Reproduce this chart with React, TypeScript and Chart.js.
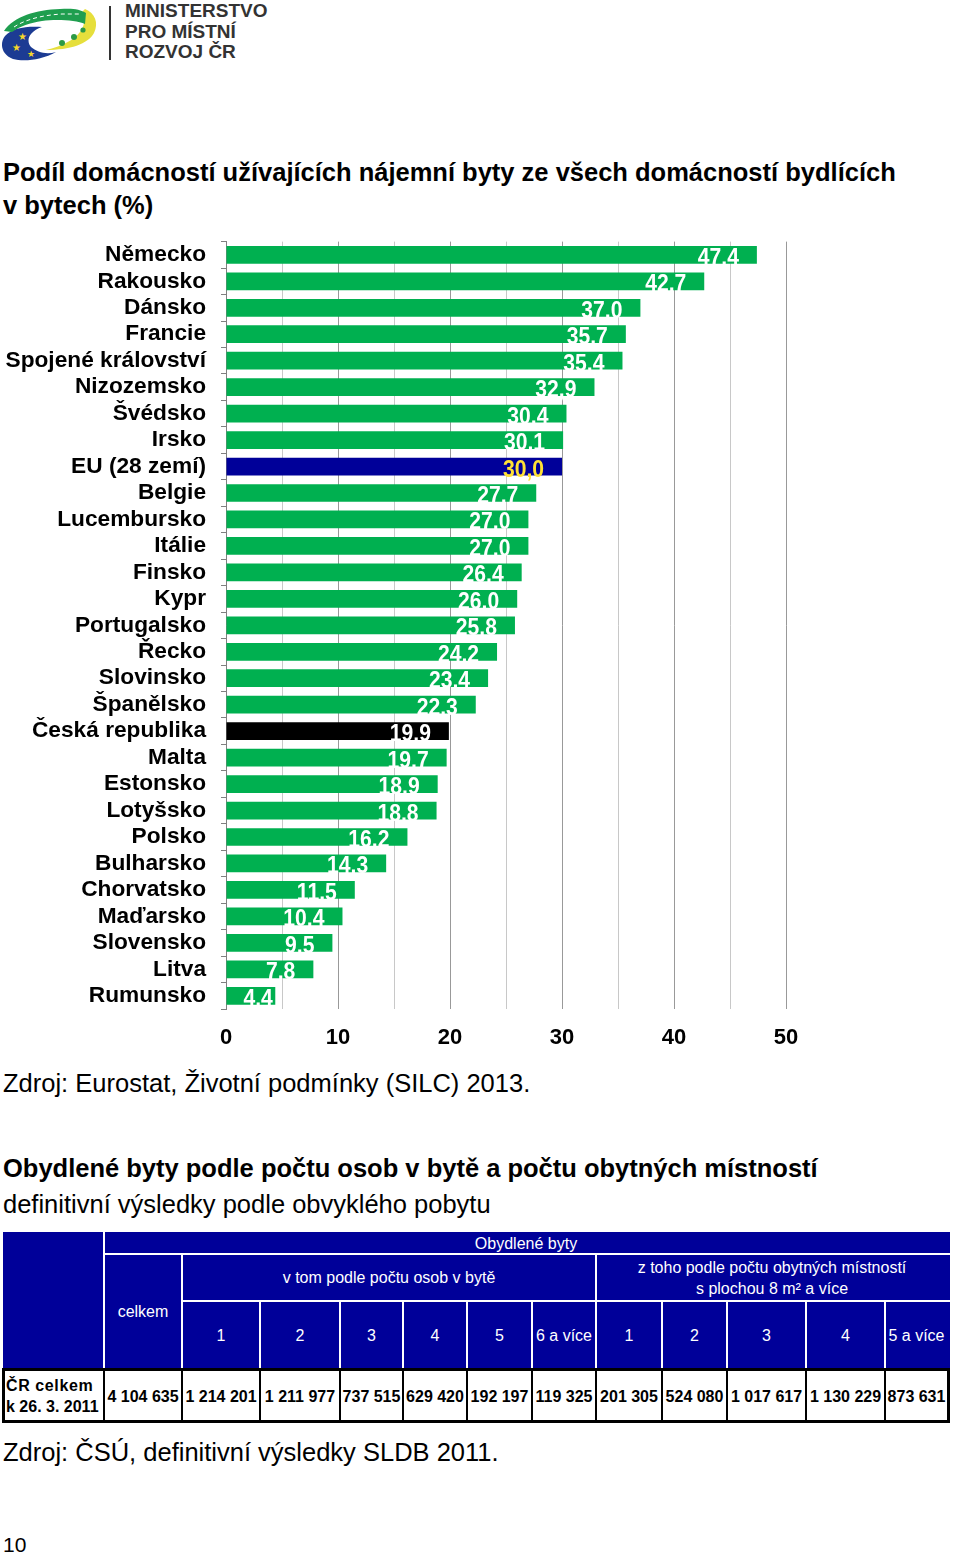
import React, { useEffect, useRef } from 'react';
import { Chart, registerables } from 'chart.js';

Chart.register(...registerables);

// ---------- chart data ----------
const categories = [
  'Německo', 'Rakousko', 'Dánsko', 'Francie', 'Spojené království', 'Nizozemsko',
  'Švédsko', 'Irsko', 'EU (28 zemí)', 'Belgie', 'Lucembursko', 'Itálie', 'Finsko',
  'Kypr', 'Portugalsko', 'Řecko', 'Slovinsko', 'Španělsko', 'Česká republika',
  'Malta', 'Estonsko', 'Lotyšsko', 'Polsko', 'Bulharsko', 'Chorvatsko', 'Maďarsko',
  'Slovensko', 'Litva', 'Rumunsko',
];
const values = [
  47.4, 42.7, 37.0, 35.7, 35.4, 32.9, 30.4, 30.1, 30.0, 27.7, 27.0, 27.0, 26.4,
  26.0, 25.8, 24.2, 23.4, 22.3, 19.9, 19.7, 18.9, 18.8, 16.2, 14.3, 11.5, 10.4,
  9.5, 7.8, 4.4,
];
const xTickLabels = [0, 10, 20, 30, 40, 50];
const euCategory = 'EU (28 zemí)';
const czCategory = 'Česká republika';

// ---------- table data ----------
const tableGroupHeader = 'Obydlené byty';
const tableTotalHeader = 'celkem';
const tablePersonsHeader = 'v tom podle počtu osob v bytě';
const tableRoomsHeader = ['z toho podle počtu obytných místností', 's plochou 8 m²  a více'];
const personCategories = ['1', '2', '3', '4', '5', '6 a více'];
const roomCategories = ['1', '2', '3', '4', '5 a více'];
const rowLabel = ['ČR celkem', 'k 26. 3. 2011'];
const totalValue = '4 104 635';
const personValues = ['1 214 201', '1 211 977', '737 515', '629 420', '192 197', '119 325'];
const roomValues = ['201 305', '524 080', '1 017 617', '1 130 229', '873 631'];

// ---------- styles / layout ----------
const GREEN = '#00B050';
const NAVY = '#000099';
const FONT = '"Liberation Sans", Arial, Helvetica, sans-serif';
const colEdges = [3, 104, 182, 260, 340, 403, 467, 532, 596, 662, 727, 806, 885, 948];
const T_TOP = 1232, R1 = 1254, R2 = 1301, R3 = 1369, T_BOT = 1423;

const barLabelPlugin = {
  id: 'barLabels',
  afterDatasetsDraw(chart: any) {
    const ctx = chart.ctx;
    const meta = chart.getDatasetMeta(0);
    const sx = 0.88;
    ctx.save();
    ctx.font = `bold 24px ${FONT}`;
    ctx.textBaseline = 'alphabetic';
    ctx.textAlign = 'left';
    meta.data.forEach((bar: any, i: number) => {
      const { x, y, base } = bar.getProps(['x', 'y', 'base'], true);
      const text = values[i].toFixed(1).replace('.', ',');
      const w = ctx.measureText(text).width * sx;
      const right = Math.max(x - 18, base + 17 + w);
      ctx.fillStyle = categories[i] === euCategory ? '#FFE135' : '#FFFFFF';
      ctx.save();
      ctx.translate(right - w, y + 10);
      ctx.scale(sx, 1);
      ctx.fillText(text, 0, 0);
      ctx.restore();
    });
    ctx.restore();
  },
};

function BarChart() {
  const ref = useRef<HTMLCanvasElement | null>(null);
  useEffect(() => {
    if (!ref.current) return;
    const colors = categories.map((c) =>
      c === euCategory ? NAVY : c === czCategory ? '#000000' : GREEN
    );
    const chart = new Chart(ref.current, {
      type: 'bar',
      data: {
        labels: categories,
        datasets: [
          {
            data: values,
            backgroundColor: colors,
            borderWidth: 0,
            barPercentage: 0.67,
            categoryPercentage: 1,
          },
        ],
      },
      options: {
        indexAxis: 'y',
        animation: false,
        responsive: true,
        maintainAspectRatio: false,
        layout: { padding: { top: 0, right: 174, bottom: 0, left: 0 } },
        plugins: { legend: { display: false }, tooltip: { enabled: false }, title: { display: false } },
        scales: {
          x: {
            type: 'linear',
            min: 0,
            max: 50,
            afterFit(scale: any) { scale.height = 51; },
            ticks: {
              stepSize: 5,
              padding: 16,
              color: '#000',
              font: { family: FONT, size: 22, weight: 'bold' },
              callback: (v: any) => (xTickLabels.includes(Number(v)) ? String(v) : ''),
            },
            grid: {
              drawTicks: false,
              color: (c: any) => (c.tick && c.tick.value % 10 === 0 ? '#999999' : '#c8c8c8'),
              lineWidth: 1,
            },
            border: { display: false },
          },
          y: {
            type: 'category',
            afterFit(scale: any) { scale.width = 226; },
            ticks: {
              autoSkip: false,
              padding: 15,
              color: '#000',
              font: { family: FONT, size: 22.7, weight: 'bold' },
            },
            grid: {
              offset: true,
              drawOnChartArea: false,
              drawTicks: true,
              tickLength: 5,
              color: '#808080',
            },
            border: { display: true, color: '#808080', width: 1 },
          },
        },
      },
      plugins: [barLabelPlugin],
    });
    return () => chart.destroy();
  }, []);
  return (
    <div style={{ position: 'absolute', left: 0, top: 213, width: 960, height: 847 }}>
      <canvas ref={ref} />
    </div>
  );
}

function Logo() {
  return (
    <div style={{ position: 'absolute', left: 0, top: 0, width: 280, height: 70 }}>
      <svg width="110" height="66" viewBox="0 0 110 66" style={{ position: 'absolute', left: 0, top: 0 }}>
        <path d="M42,27 C26,26 12,28 5,36 C-1,44 2,55 13,59 C24,62 42,60 56,52 C46,55 37,52 31,47 C26,41 28,32 42,27 Z" fill="#1c3b93" />
        <path d="M85,9 C95,13 99,23 94,33 C88,44 70,50 46,50 C62,46 74,40 80,32 C85,25 86,17 82,12 Z" fill="#e6df3c" />
        <path d="M4,31 C14,16 36,10 60,9 C72,8 80,9 86,13 L85,24 C76,20 56,19 42,21 C30,23 20,26 12,32 Z" fill="#1f9e4f" />
        <path d="M14,27 C26,19 44,15 62,14 L80,14" stroke="#ffffff" strokeWidth="1" strokeDasharray="4 3" fill="none" />
        <circle cx="62" cy="43" r="3" fill="#2d9a45" />
        <circle cx="74" cy="37" r="3" fill="#2d9a45" />
        <circle cx="83" cy="30" r="2.6" fill="#2d9a45" />
        <text x="18" y="40" fontSize="10" fill="#f5d829">★</text>
        <text x="12" y="51" fontSize="10" fill="#f5d829">★</text>
        <text x="27" y="57" fontSize="9" fill="#f5d829">★</text>
      </svg>
      <div style={{ position: 'absolute', left: 109, top: 6, width: 2, height: 54, background: '#333' }} />
      <div
        style={{
          position: 'absolute', left: 125, top: 1, fontFamily: FONT, fontWeight: 'bold',
          fontSize: 19, lineHeight: '20.5px', color: '#333333', whiteSpace: 'nowrap',
        }}
      >
        <div>MINISTERSTVO</div>
        <div>PRO MÍSTNÍ</div>
        <div>ROZVOJ ČR</div>
      </div>
    </div>
  );
}

function Txt(props: { top: number; left?: number; size: number; bold?: boolean; children: any }) {
  return (
    <div
      style={{
        position: 'absolute', left: props.left ?? 3, top: props.top, fontFamily: FONT,
        fontSize: props.size, lineHeight: '30px', fontWeight: props.bold ? 'bold' : 'normal',
        color: '#000', whiteSpace: 'nowrap',
      }}
    >
      {props.children}
    </div>
  );
}

function Cell(props: { x0: number; x1: number; y0: number; y1: number; children: any; white?: boolean; bold?: boolean; align?: string }) {
  return (
    <div
      style={{
        position: 'absolute', left: props.x0, top: props.y0, width: props.x1 - props.x0,
        height: props.y1 - props.y0, display: 'flex', flexDirection: 'column',
        alignItems: props.align === 'left' ? 'flex-start' : 'center', justifyContent: 'center',
        fontFamily: FONT, fontSize: 16, lineHeight: '21px', color: props.white ? '#fff' : '#000',
        fontWeight: props.bold ? 'bold' : 'normal', whiteSpace: 'nowrap', textAlign: 'center',
        paddingLeft: props.align === 'left' ? 3 : 0, boxSizing: 'border-box',
      }}
    >
      {props.children}
    </div>
  );
}

function Line(props: { x: number; y: number; w: number; h: number; color: string }) {
  return (
    <div style={{ position: 'absolute', left: props.x, top: props.y, width: props.w, height: props.h, background: props.color }} />
  );
}

function Table() {
  const e = colEdges;
  const sub = [...personCategories, ...roomCategories];
  const dataVals = [totalValue, ...personValues, ...roomValues];
  const els: any[] = [];
  els.push(<Line key="bg" x={e[0]} y={T_TOP} w={e[13] - e[0] + 2} h={R3 - T_TOP} color={NAVY} />);
  els.push(<Line key="h1" x={e[1]} y={R1 - 1} w={e[13] - e[1] + 2} h={2} color="#fff" />);
  els.push(<Line key="h2" x={e[2]} y={R2 - 1} w={e[13] - e[2] + 2} h={2} color="#fff" />);
  els.push(<Line key="v1" x={e[1] - 1} y={T_TOP} w={2} h={R3 - T_TOP} color="#fff" />);
  els.push(<Line key="v2" x={e[2] - 1} y={R1} w={2} h={R3 - R1} color="#fff" />);
  els.push(<Line key="v8" x={e[8] - 1} y={R1} w={2} h={R3 - R1} color="#fff" />);
  for (let i = 3; i <= 12; i++) {
    if (i === 8) continue;
    els.push(<Line key={'v' + i} x={e[i] - 1} y={R2} w={2} h={R3 - R2} color="#fff" />);
  }
  els.push(<Cell key="gh" x0={e[1]} x1={e[13]} y0={T_TOP} y1={R1} white>{tableGroupHeader}</Cell>);
  els.push(<Cell key="th" x0={e[1]} x1={e[2]} y0={R1} y1={R3} white>{tableTotalHeader}</Cell>);
  els.push(<Cell key="ph" x0={e[2]} x1={e[8]} y0={R1} y1={R2} white>{tablePersonsHeader}</Cell>);
  els.push(
    <Cell key="rh" x0={e[8]} x1={e[13]} y0={R1} y1={R2} white>
      <div>{tableRoomsHeader[0]}</div>
      <div>{tableRoomsHeader[1]}</div>
    </Cell>
  );
  sub.forEach((s, i) => {
    els.push(<Cell key={'s' + i} x0={e[i + 2]} x1={e[i + 3]} y0={R2} y1={R3} white>{s}</Cell>);
  });
  els.push(<Line key="dbg" x={e[0]} y={R3} w={e[13] - e[0] + 2} h={T_BOT - R3} color="#fff" />);
  els.push(
    <div key="frame" style={{ position: 'absolute', left: e[0] - 1, top: R3 - 1, width: e[13] - e[0] + 3, height: T_BOT - R3 + 1, border: '3px solid #000', boxSizing: 'border-box' }} />
  );
  for (let i = 1; i <= 12; i++) {
    els.push(<Line key={'d' + i} x={e[i] - 1} y={R3} w={2} h={T_BOT - R3} color="#000" />);
  }
  els.push(
    <Cell key="rl" x0={e[0]} x1={e[1]} y0={R3} y1={T_BOT} bold align="left">
      <div style={{ letterSpacing: 0.6 }}>{rowLabel[0]}</div>
      <div>{rowLabel[1]}</div>
    </Cell>
  );
  dataVals.forEach((v, i) => {
    els.push(<Cell key={'dv' + i} x0={e[i + 1]} x1={e[i + 2]} y0={R3} y1={T_BOT} bold>{v}</Cell>);
  });
  return <>{els}</>;
}

export default function App() {
  return (
    <div style={{ position: 'absolute', left: 0, top: 0, width: 960, height: 1558, background: '#fff', overflow: 'hidden' }}>
      <Logo />
      <Txt top={157} size={25.5} bold>Podíl domácností užívajících nájemní byty ze všech domácností bydlících</Txt>
      <Txt top={190} size={25.5} bold>v bytech (%)</Txt>
      <BarChart />
      <Txt top={1068} size={25.5}>Zdroj: Eurostat, Životní podmínky (SILC) 2013.</Txt>
      <Txt top={1153} size={25.5} bold>Obydlené byty podle počtu osob v bytě a počtu obytných místností</Txt>
      <Txt top={1189} size={25.5}>definitivní výsledky podle obvyklého pobytu</Txt>
      <Table />
      <Txt top={1437} size={25.5}>Zdroj: ČSÚ, definitivní výsledky SLDB 2011.</Txt>
      <Txt top={1530} size={21}>10</Txt>
    </div>
  );
}
